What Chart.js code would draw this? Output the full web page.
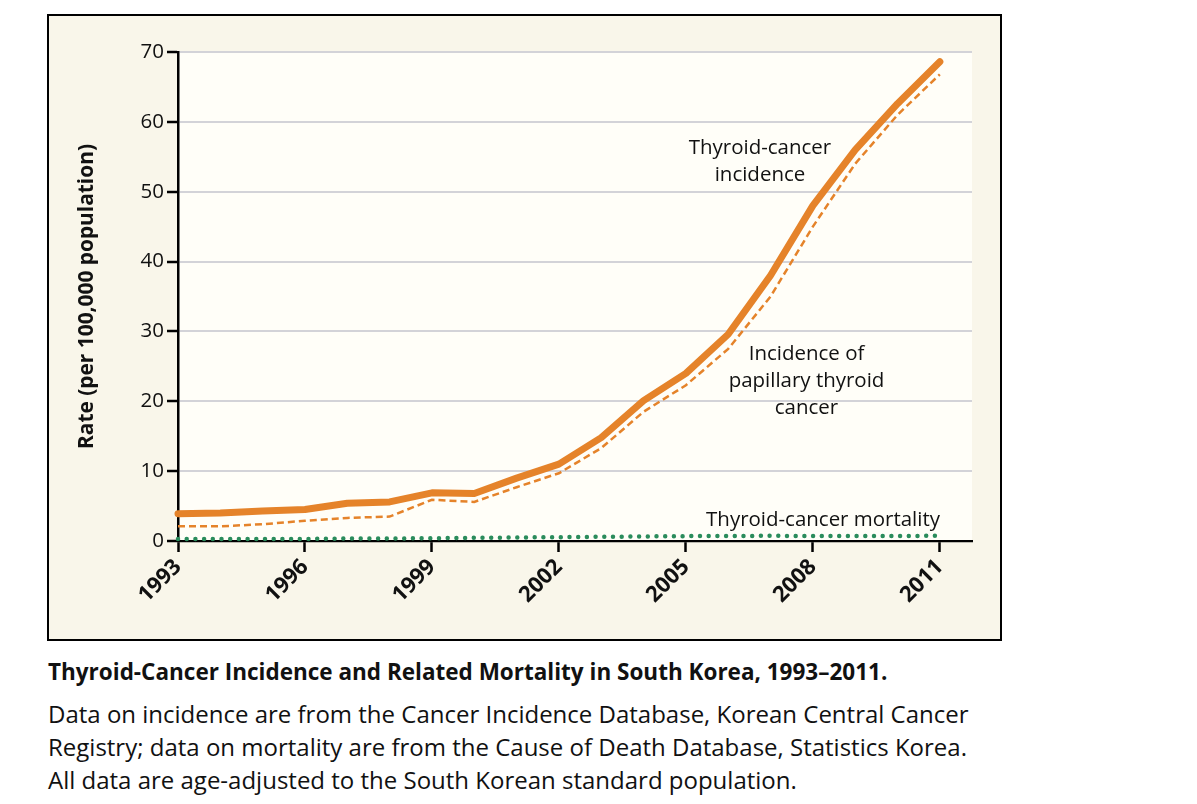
<!DOCTYPE html>
<html>
<head>
<meta charset="utf-8">
<script src="https://cdn.jsdelivr.net/npm/chart.js@4.4.0/dist/chart.umd.min.js"></script>
<style>
  html, body { margin: 0; padding: 0; background: #ffffff; }
  body { width: 1197px; height: 804px; position: relative; overflow: hidden; font-family: "Open Sans", Lato, sans-serif; color: #111; }
  #box { position: absolute; left: 47px; top: 14px; width: 951px; height: 623px; border: 2px solid #000; background: #f9f6ea; }
  #box canvas { display: block; }
  #title { position: absolute; left: 48px; top: 656px; font-size: 21px; font-weight: bold; white-space: nowrap; line-height: 32px; }
  #caption { position: absolute; left: 48px; top: 697px; font-size: 21px; line-height: 33px; white-space: nowrap; }
</style>
</head>
<body>
<div id="box"><canvas id="c" width="951" height="623"></canvas></div>
<div id="title">Thyroid-Cancer Incidence and Related Mortality in South Korea, 1993–2011.</div>
<div id="caption">Data on incidence are from the Cancer Incidence Database, Korean Central Cancer<br>Registry; data on mortality are from the Cause of Death Database, Statistics Korea.<br>All data are age-adjusted to the South Korean standard population.</div>
<script>
const years = [1993,1994,1995,1996,1997,1998,1999,2000,2001,2002,2003,2004,2005,2006,2007,2008,2009,2010,2011];
const thyroidIncidence = [3.9,4.0,4.3,4.5,5.4,5.6,6.9,6.8,9.0,11.0,14.8,20.1,24.0,29.6,38.0,48.0,56.0,62.6,68.6];
const papillaryIncidence = [2.1,2.1,2.4,2.9,3.3,3.5,5.9,5.6,7.7,9.7,13.3,18.5,22.3,27.5,35.0,45.0,54.0,61.0,66.8];
const thyroidMortality = [0.3,0.3,0.3,0.3,0.35,0.35,0.4,0.45,0.5,0.55,0.6,0.65,0.7,0.7,0.75,0.7,0.7,0.7,0.75];
const xTickYears = [1993,1996,1999,2002,2005,2008,2011];
const yTickValues = [0,10,20,30,40,50,60,70];
const annotations = [
  { lines: ["Thyroid-cancer", "incidence"], x: 2006.75, y: 56.2 },
  { lines: ["Incidence of", "papillary thyroid", "cancer"], x: 2007.85, y: 26.75 },
  { lines: ["Thyroid-cancer mortality"], x: 2008.24, y: 3.0 }
];

const FONT = '"Open Sans", Lato, sans-serif';
const orange = '#e5832a';
const green = '#2a8c5c';

// fit font sizes to the reference text widths
const mctx = document.createElement('canvas').getContext('2d');
function fitSize(text, weight, target) {
  mctx.font = weight + ' 20px ' + FONT;
  return 20 * target / mctx.measureText(text).width;
}
const annoSize = fitSize('Thyroid-cancer mortality', 'normal', 234);
const yTitleSize = fitSize('Rate (per 100,000 population)', 'bold', 305);
document.getElementById('title').style.fontSize = fitSize('Thyroid-Cancer Incidence and Related Mortality in South Korea, 1993–2011.', 'bold', 840) + 'px';
document.getElementById('caption').style.fontSize = fitSize('Data on incidence are from the Cancer Incidence Database, Korean Central Cancer', 'normal', 921) + 'px';

const toPts = arr => arr.map((v, i) => ({ x: years[i], y: v }));

const bgPlugin = {
  id: 'plotBg',
  beforeDraw(chart) {
    const { ctx, chartArea: a } = chart;
    ctx.save();
    ctx.fillStyle = '#fffef8';
    ctx.fillRect(a.left, a.top, a.right - a.left, a.bottom - a.top);
    ctx.restore();
  }
};
const annoPlugin = {
  id: 'anno',
  afterDatasetsDraw(chart) {
    const { ctx, scales } = chart;
    ctx.save();
    ctx.font = annoSize + 'px ' + FONT;
    ctx.fillStyle = '#111';
    ctx.textAlign = 'center';
    ctx.textBaseline = 'middle';
    annotations.forEach(a => {
      const px = scales.x.getPixelForValue(a.x);
      const py = scales.y.getPixelForValue(a.y);
      a.lines.forEach((t, i) => ctx.fillText(t, px, py + i * 27));
    });
    ctx.restore();
  }
};

new Chart(document.getElementById('c'), {
  type: 'line',
  data: {
    datasets: [
      { data: toPts(thyroidIncidence), borderColor: orange, borderWidth: 7, borderCapStyle: 'round', borderJoinStyle: 'round', pointRadius: 0, tension: 0, clip: false },
      { data: toPts(papillaryIncidence), borderColor: orange, borderWidth: 2.5, borderDash: [7, 4], pointRadius: 0, tension: 0, clip: false },
      { data: toPts(thyroidMortality), borderColor: green, borderWidth: 4.5, borderDash: [0, 8.7], borderCapStyle: 'round', pointRadius: 0, tension: 0, clip: false }
    ]
  },
  options: {
    responsive: false,
    animation: false,
    devicePixelRatio: 1,
    layout: { padding: { top: 36, right: 28, left: 0, bottom: 0 } },
    plugins: { legend: { display: false }, tooltip: { enabled: false } },
    scales: {
      x: {
        type: 'linear',
        min: 1993,
        max: 2011.76,
        afterBuildTicks(s) { s.ticks = xTickYears.map(v => ({ value: v })); },
        afterFit(s) { s.height = 98; },
        grid: { drawOnChartArea: false, drawTicks: true, tickLength: 11, tickColor: '#000', tickWidth: 2.5 },
        border: { display: true, color: '#000', width: 2.2 },
        ticks: {
          minRotation: 45, maxRotation: 45, padding: 2,
          color: '#111',
          font: { family: FONT, size: 22, weight: 'bold' },
          callback: v => String(v)
        }
      },
      y: {
        min: 0, max: 70,
        afterBuildTicks(s) { s.ticks = yTickValues.map(v => ({ value: v })); },
        afterFit(s) { s.width = 129; },
        grid: { color: '#d3d3d8', lineWidth: 2, drawTicks: true, tickLength: 11, tickColor: '#000', tickWidth: 2.5 },
        border: { display: true, color: '#000', width: 2.5 },
        ticks: { color: '#111', padding: 3, font: { family: FONT, size: 20.5 } },
        title: {
          display: true,
          text: 'Rate (per 100,000 population)',
          color: '#111',
          font: { family: FONT, size: yTitleSize, weight: 'bold' },
          padding: { top: 26, bottom: 0 }
        }
      }
    }
  },
  plugins: [bgPlugin, annoPlugin]
});
</script>
</body>
</html>
